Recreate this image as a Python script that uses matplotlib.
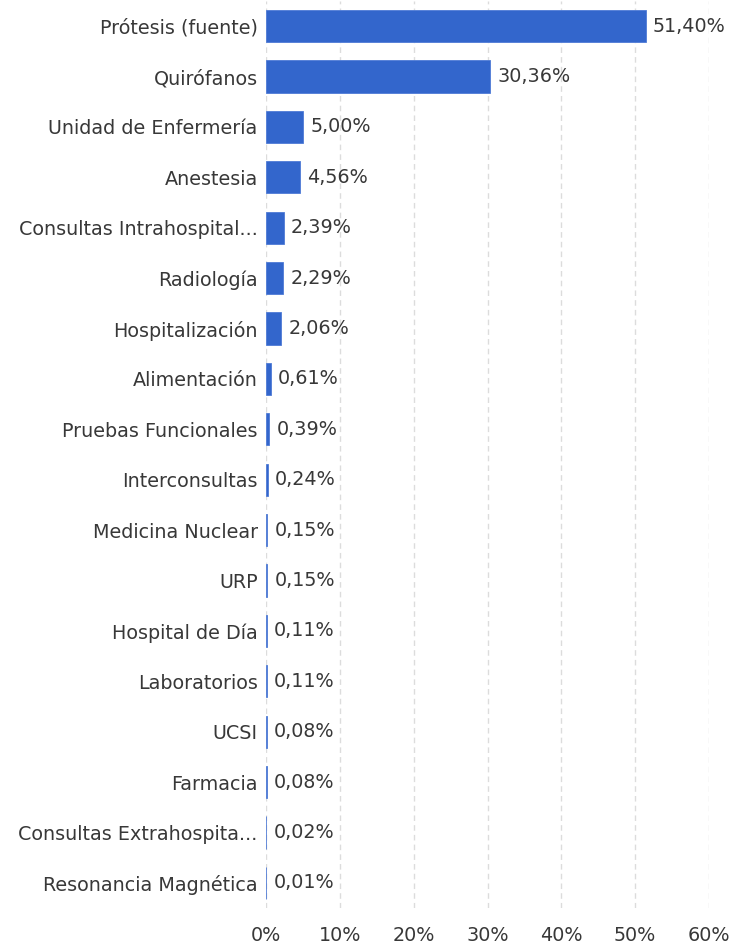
import matplotlib
matplotlib.use("Agg")
import matplotlib.pyplot as plt
from matplotlib.ticker import FuncFormatter

CATEGORIES = [
    "Prótesis (fuente)", "Quirófanos", "Unidad de Enfermería", "Anestesia",
    "Consultas Intrahospital...", "Radiología", "Hospitalización",
    "Alimentación", "Pruebas Funcionales", "Interconsultas",
    "Medicina Nuclear", "URP", "Hospital de Día", "Laboratorios", "UCSI",
    "Farmacia", "Consultas Extrahospita...", "Resonancia Magnética",
]
VALUES = [51.40, 30.36, 5.00, 4.56, 2.39, 2.29, 2.06, 0.61, 0.39, 0.24,
          0.15, 0.15, 0.11, 0.11, 0.08, 0.08, 0.02, 0.01]
XTICKS = [0, 10, 20, 30, 40, 50, 60]

BAR = "#3366cc"
TEXT = "#383838"
FS = 13.8

fig = plt.figure(figsize=(7.32, 9.47), dpi=100)
ax = fig.add_axes([266 / 732, 39 / 947, (709 - 266) / 732, 907 / 947])

n = len(CATEGORIES)
ypos = list(range(n))
ax.barh(ypos, VALUES, height=0.64, color=BAR, edgecolor="#4f7bd6",
        linewidth=0.6, zorder=3)

for y, v in zip(ypos, VALUES):
    ax.text(v + 1.0, y, f"{v:.2f}%".replace(".", ","), va="center",
            ha="left", fontsize=FS, color=TEXT, zorder=4)

ax.set_ylim(n - 0.5, -0.5)
ax.set_xlim(0, 60)
ax.set_yticks(ypos)
ax.set_yticklabels(CATEGORIES, fontsize=FS, color=TEXT)
ax.set_xticks(XTICKS)
ax.xaxis.set_major_formatter(FuncFormatter(lambda x, _: f"{x:.0f}%"))
ax.tick_params(axis="x", labelsize=FS, labelcolor=TEXT, length=0, pad=13)
ax.tick_params(axis="y", length=0, pad=6)

ax.grid(axis="x", color="#dcdcdc", linestyle=(0, (4, 3)), linewidth=1,
        zorder=0)
for s in ax.spines.values():
    s.set_visible(False)

fig.savefig("out.png", dpi=100)
